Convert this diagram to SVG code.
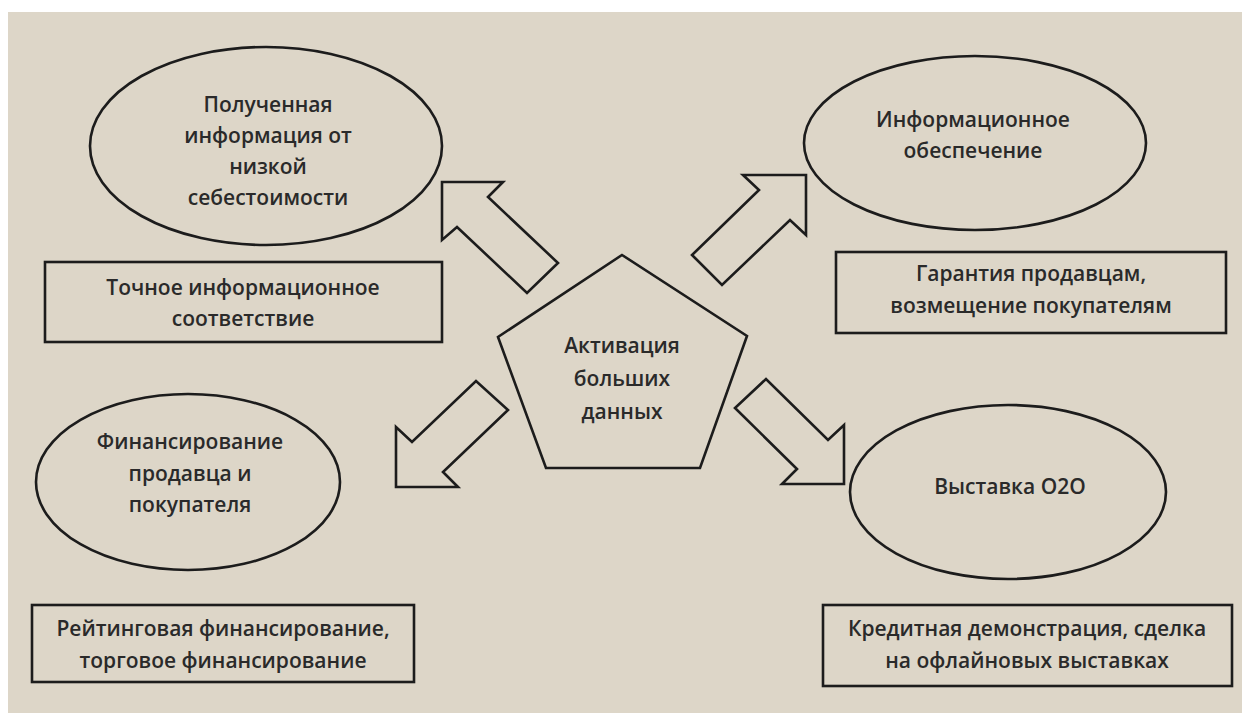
<svg xmlns="http://www.w3.org/2000/svg" width="1242" height="713" viewBox="0 0 1242 713">
<style>
.shape{fill:none;stroke:#1c1c1c;stroke-width:2.6;stroke-linejoin:miter}
.t{font-family:"Open Sans","Noto Sans","DejaVu Sans",sans-serif;font-size:21px;font-weight:600;fill:#2a2a2a;text-anchor:middle}
</style>
<rect x="0" y="0" width="1242" height="713" fill="#ffffff"/>
<rect x="8" y="12" width="1234" height="701" fill="#ddd6c8"/>
<g id="connectors">
<polygon class="shape" points="442,182 503,182 488,197 558,263 527,293 457,227 442,240"/>
<polygon class="shape" points="806,175 743,175 759,190 692,255 722,285 790,220 806,235"/>
<polygon class="shape" points="396,487 458,487 443,472 508,410 476,381 412,442 396,427"/>
<polygon class="shape" points="844,484 782,484 797,469 735,408 766,379 828,440 844,425"/>
</g>
<g id="center">
<polygon class="shape" points="622,255 747,336 700,468 546,468 498,337"/>
<text class="t" x="622" y="353">Активация</text>
<text class="t" x="622" y="386">больших</text>
<text class="t" x="622" y="419">данных</text>
</g>
<g id="tl-ellipse">
<ellipse class="shape" cx="266" cy="146" rx="176" ry="99"/>
<text class="t" x="268" y="112">Полученная</text>
<text class="t" x="268" y="143">информация от</text>
<text class="t" x="268" y="174">низкой</text>
<text class="t" x="268" y="205">себестоимости</text>
</g>
<g id="tl-rect">
<rect class="shape" x="45" y="262" width="397" height="80"/>
<text class="t" x="243" y="295">Точное информационное</text>
<text class="t" x="243" y="326">соответствие</text>
</g>
<g id="tr-ellipse">
<ellipse class="shape" cx="975" cy="143" rx="171" ry="87"/>
<text class="t" x="973" y="127">Информационное</text>
<text class="t" x="973" y="158">обеспечение</text>
</g>
<g id="tr-rect">
<rect class="shape" x="836" y="252" width="390" height="81"/>
<text class="t" x="1031" y="281">Гарантия продавцам,</text>
<text class="t" x="1031" y="313">возмещение покупателям</text>
</g>
<g id="bl-ellipse">
<ellipse class="shape" cx="188" cy="482" rx="152" ry="88"/>
<text class="t" x="190" y="449">Финансирование</text>
<text class="t" x="190" y="481">продавца и</text>
<text class="t" x="190" y="512">покупателя</text>
</g>
<g id="bl-rect">
<rect class="shape" x="32" y="605" width="382" height="77"/>
<text class="t" x="223" y="636">Рейтинговая финансирование,</text>
<text class="t" x="223" y="668">торговое финансирование</text>
</g>
<g id="br-ellipse">
<ellipse class="shape" cx="1008" cy="492" rx="158" ry="87"/>
<text class="t" x="1010" y="494">Выставка О2О</text>
</g>
<g id="br-rect">
<rect class="shape" x="823" y="605" width="409" height="81"/>
<text class="t" x="1027" y="636">Кредитная демонстрация, сделка</text>
<text class="t" x="1027" y="668">на офлайновых выставках</text>
</g>
</svg>
